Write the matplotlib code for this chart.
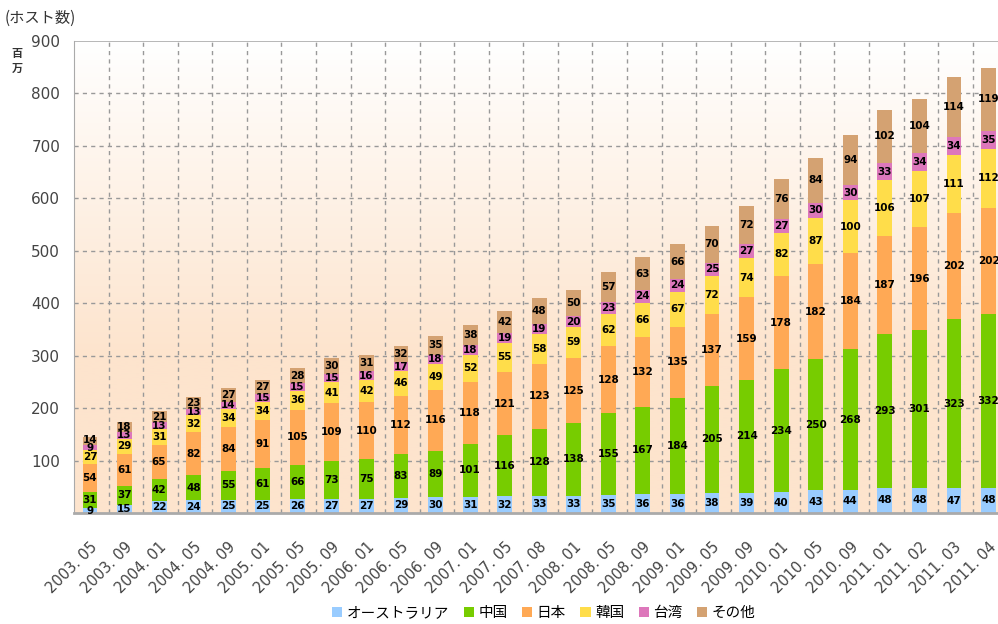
import matplotlib.pyplot as plt
import numpy as np

# データ（百万ホスト）
periods = ['2003. 05', '2003. 09', '2004. 01', '2004. 05', '2004. 09', '2005. 01',
           '2005. 05', '2005. 09', '2006. 01', '2006. 05', '2006. 09', '2007. 01',
           '2007. 05', '2007. 08', '2008. 01', '2008. 05', '2008. 09', '2009. 01',
           '2009. 05', '2009. 09', '2010. 01', '2010. 05', '2010. 09', '2011. 01',
           '2011. 02', '2011. 03', '2011. 04']
australia = [9, 15, 22, 24, 25, 25, 26, 27, 27, 29, 30, 31, 32, 33, 33, 35, 36, 36,
             38, 39, 40, 43, 44, 48, 48, 47, 48]
china = [31, 37, 42, 48, 55, 61, 66, 73, 75, 83, 89, 101, 116, 128, 138, 155, 167,
         184, 205, 214, 234, 250, 268, 293, 301, 323, 332]
japan = [54, 61, 65, 82, 84, 91, 105, 109, 110, 112, 116, 118, 121, 123, 125, 128,
         132, 135, 137, 159, 178, 182, 184, 187, 196, 202, 202]
korea = [27, 29, 31, 32, 34, 34, 36, 41, 42, 46, 49, 52, 55, 58, 59, 62, 66, 67, 72,
         74, 82, 87, 100, 106, 107, 111, 112]
taiwan = [9, 13, 13, 13, 14, 15, 15, 15, 16, 17, 18, 18, 19, 19, 20, 23, 24, 24, 25,
          27, 27, 30, 30, 33, 34, 34, 35]
others = [14, 18, 21, 23, 27, 27, 28, 30, 31, 32, 35, 38, 42, 48, 50, 57, 63, 66, 70,
          72, 76, 84, 94, 102, 104, 114, 119]

series = [australia, china, japan, korea, taiwan, others]
names = ['オーストラリア', '中国', '日本', '韓国', '台湾', 'その他']
colors = ['#99CCFF', '#77CC00', '#FFA955', '#FFDD4A', '#DD77BB', '#D4A272']

yticks = [100, 200, 300, 400, 500, 600, 700, 800, 900]

fig = plt.figure(figsize=(9.98, 6.24), dpi=100)
ax = fig.add_axes([0.0742, 0.1779, 0.935, 0.7564])

n = len(periods)
x = np.arange(n)
ax.set_xlim(-0.46, n - 0.46)
ax.set_ylim(0, 900)

# 背景のグラデーション
peach = np.array([253, 228, 205]) / 255.0
yy = np.linspace(0, 900, 300)
t = np.clip((900 - yy) / 600.0, 0, 1)[:, None]
grad = 1 - t * (1 - peach)
ax.imshow(grad[:, None, :], extent=[-0.46, n - 0.46, 0, 900], origin='lower',
          aspect='auto', zorder=0)

# グリッド
for y in yticks[:-1]:
    ax.axhline(y, color='#999999', lw=1, ls=(0, (3, 3)), zorder=1)
for i in range(n):
    ax.axvline(i + 0.54, color='#999999', lw=1, ls=(0, (3, 3)), zorder=1)
ax.axhline(900, color='#aaaaaa', lw=1.2, zorder=1)

bottom = np.zeros(n)
for k, (vals, name, c) in enumerate(zip(series, names, colors)):
    vals = np.array(vals)
    ax.bar(x, vals, width=0.43, bottom=bottom, color=c, label=name, zorder=2)
    for xi, b, v in zip(x, bottom, vals):
        yc = b + v / 2
        # 最初の棒の台湾/その他は狭いので少しずらす
        if xi == 0 and k == 4:
            yc -= 2
        if xi == 0 and k == 5:
            yc += 3
        ax.text(xi, yc, str(v), ha='center', va='center', fontsize=7.5,
                fontweight='bold', color='black', zorder=3)
    bottom += vals

for s in ['top', 'right']:
    ax.spines[s].set_visible(False)
ax.spines['left'].set_color('#aaaaaa')
ax.spines['bottom'].set_color('#aaaaaa')
ax.spines['bottom'].set_linewidth(2)

ax.set_yticks(yticks)
ax.set_yticklabels([str(v) for v in yticks], fontsize=11, color='#444444')
ax.tick_params(axis='y', length=0, pad=10)
ax.set_xticks(x)
ax.set_xticklabels(periods, rotation=45, ha='right', rotation_mode='anchor',
                   fontsize=10.5, color='#444444')
ax.tick_params(axis='x', length=0, pad=19)

cjk = ['Noto Sans CJK JP', 'DejaVu Sans']
fig.text(0.005, 0.985, '(ホスト数)', family=cjk, fontsize=11, color='#333333',
         ha='left', va='top')
fig.text(0.017, 0.925, '百\n万', family=cjk, fontsize=8, fontweight='bold',
         color='#333333', ha='center', va='top', linespacing=1.2)

fig.legend(loc='center', bbox_to_anchor=(0.545, 0.018), ncol=6, frameon=False,
           prop={'family': cjk, 'size': 10.5}, handlelength=0.7, handleheight=0.7,
           handletextpad=0.3, columnspacing=1.0, labelcolor='black')

fig.savefig('out.png', dpi=100)
